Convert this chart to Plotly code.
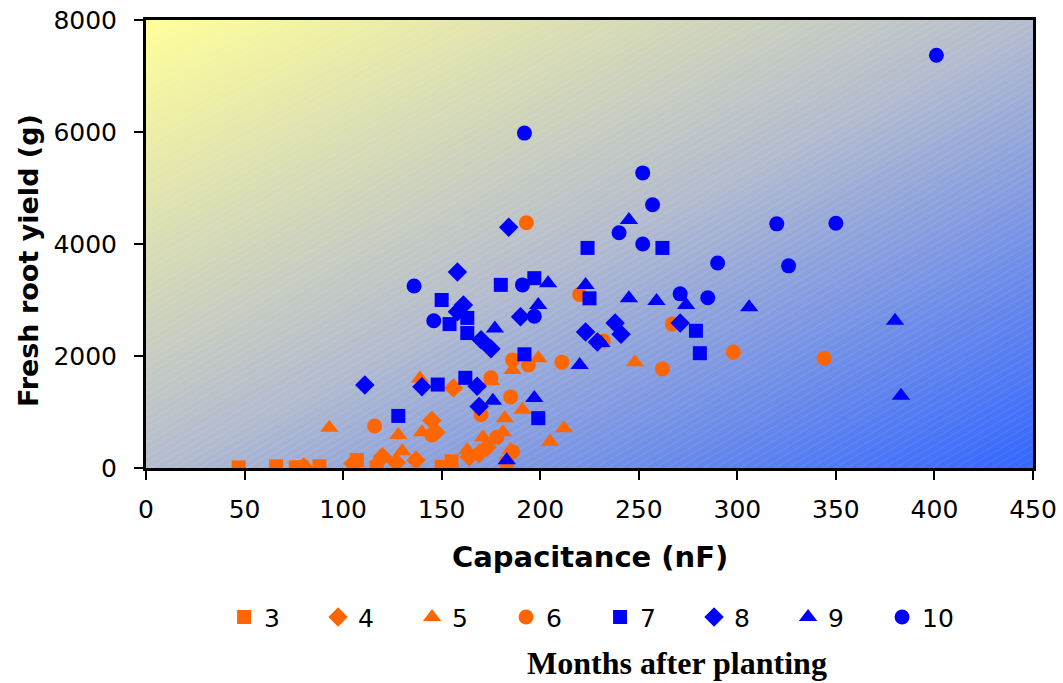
import base64
import plotly.graph_objects as go

# Capacitance (nF) and fresh root yield (g) per harvest month
m3_x = [47, 66, 76, 79, 88, 107, 117, 150, 155, 183]
m3_y = [10, 30, 10, 10, 30, 140, 10, 20, 120, 80]

m4_x = [80, 105, 120, 127, 137, 145, 147, 156, 164, 173, 169]
m4_y = [20, 80, 200, 100, 140, 850, 640, 1430, 200, 370, 260]

m5_x = [93, 119, 128, 130, 139, 140, 163, 171, 175, 181, 182, 185, 186, 191, 199, 205, 212, 248]
m5_y = [720, 200, 590, 300, 1600, 640, 320, 550, 1550, 640, 890, 320, 1750, 1040, 1960, 470, 710, 1890]

m6_x = [116, 145, 170, 175, 178, 185, 186, 186, 193, 194, 211, 220, 232, 262, 267, 298, 344]
m6_y = [750, 590, 950, 1610, 550, 1270, 290, 1930, 4380, 1840, 1890, 3100, 2270, 1770, 2570, 2070, 1960]

m7_x = [128, 148, 150, 154, 162, 163, 163, 180, 192, 197, 199, 224, 225, 262, 279, 281]
m7_y = [930, 1490, 3000, 2570, 1610, 2680, 2410, 3270, 2030, 3390, 890, 3930, 3030, 3930, 2450, 2050]

m8_x = [111, 140, 158, 158, 161, 168, 169, 170, 175, 184, 190, 223, 229, 238, 241, 271]
m8_y = [1480, 1450, 3500, 2790, 2910, 1460, 1100, 2290, 2130, 4300, 2700, 2430, 2250, 2590, 2390, 2590]

m9_x = [176, 177, 183, 197, 199, 204, 220, 223, 231, 245, 245, 259, 274, 306, 380, 383]
m9_y = [1200, 2490, 140, 1250, 2910, 3300, 1840, 3270, 2230, 4430, 3030, 2980, 2910, 2870, 2630, 1290]

m10_x = [136, 146, 191, 192, 197, 240, 252, 252, 257, 271, 285, 290, 320, 326, 350, 401]
m10_y = [3250, 2630, 3270, 5980, 2710, 4200, 5270, 4000, 4700, 3110, 3040, 3660, 4360, 3610, 4370, 7370]

months = ["3", "4", "5", "6", "7", "8", "9", "10"]
series_x = [m3_x, m4_x, m5_x, m6_x, m7_x, m8_x, m9_x, m10_x]
series_y = [m3_y, m4_y, m5_y, m6_y, m7_y, m8_y, m9_y, m10_y]

ORANGE = "#FF6600"
BLUE = "#0000FF"
colors = [ORANGE] * 4 + [BLUE] * 4
symbols = ["square", "diamond", "triangle-up", "circle"] * 2
sizes = {"square": 14, "diamond": 15, "triangle-up": 16, "circle": 15}

W, H = 1063, 683
L, R, T, B = 146, 30, 20, 215
PW, PH = W - L - R, H - T - B

# Plot-area fill: diagonal yellow-to-blue gradient with a faint white hatch
svg = f"""<svg xmlns='http://www.w3.org/2000/svg' width='{PW}' height='{PH}' viewBox='0 0 {PW} {PH}' preserveAspectRatio='none'>
<defs>
<linearGradient id='g' x1='0' y1='0' x2='1' y2='1'>
<stop offset='0' stop-color='#FFFF99'/>
<stop offset='0.5' stop-color='#B4BCCE'/>
<stop offset='1' stop-color='#3366FF'/>
</linearGradient>
<pattern id='h' width='6' height='6' patternUnits='userSpaceOnUse' patternTransform='rotate(-30)'>
<line x1='0' y1='0' x2='6' y2='0' stroke='white' stroke-width='1' stroke-opacity='0.18'/>
</pattern>
</defs>
<rect width='{PW}' height='{PH}' fill='url(#g)'/>
<rect width='{PW}' height='{PH}' fill='url(#h)'/>
</svg>"""
bg_src = "data:image/svg+xml;base64," + base64.b64encode(svg.encode()).decode()

fig = go.Figure()
for name, xs, ys, c, s in zip(months, series_x, series_y, colors, symbols):
    fig.add_trace(go.Scatter(
        x=xs, y=ys, mode="markers", name=name,
        marker=dict(color=c, symbol=s, size=sizes[s], line=dict(width=0)),
    ))

tick_font = dict(family="DejaVu Sans", size=25, color="black")

fig.update_layout(
    width=W, height=H,
    margin=dict(l=L, r=R, t=T, b=B),
    paper_bgcolor="white",
    plot_bgcolor="white",
    showlegend=True,
    legend=dict(
        orientation="h", x=0.088, y=-0.333, xanchor="left", yanchor="middle",
        font=dict(family="DejaVu Sans", size=25, color="black"),
        entrywidth=49, entrywidthmode="pixels", itemsizing="trace",
        bgcolor="rgba(0,0,0,0)",
    ),
    images=[dict(
        source=bg_src, xref="x", yref="y", x=0, y=8000, sizex=450, sizey=8000,
        sizing="stretch", layer="below", xanchor="left", yanchor="top",
    )],
    xaxis=dict(
        range=[0, 450], dtick=50, tick0=0, showgrid=False, zeroline=False,
        showline=True, linecolor="black", linewidth=3, mirror=True,
        ticks="outside", ticklen=9, tickwidth=2, tickcolor="black",
        tickfont=tick_font, ticklabelstandoff=8, automargin=False,
    ),
    yaxis=dict(
        range=[0, 8000], dtick=2000, tick0=0, showgrid=False, zeroline=False,
        showline=True, linecolor="black", linewidth=3, mirror=True,
        ticks="outside", ticklen=9, tickwidth=2, tickcolor="black",
        tickfont=tick_font, ticklabelstandoff=12, automargin=False,
    ),
    annotations=[
        dict(text="<b>Capacitance (nF)</b>", xref="paper", yref="paper",
             x=0.5, y=-0.199, xanchor="center", yanchor="middle", showarrow=False,
             font=dict(family="DejaVu Sans", size=29, color="black")),
        dict(text="<b>Fresh root yield (g)</b>", xref="paper", yref="paper",
             x=-0.133, y=0.462, xanchor="center", yanchor="middle", showarrow=False,
             textangle=-90, font=dict(family="DejaVu Sans", size=27, color="black")),
        dict(text="<b>Months after planting</b>", xref="paper", yref="paper",
             x=0.599, y=-0.435, xanchor="center", yanchor="middle", showarrow=False,
             font=dict(family="Liberation Serif", size=32, color="black")),
    ],
)

fig.write_html("out.html")
